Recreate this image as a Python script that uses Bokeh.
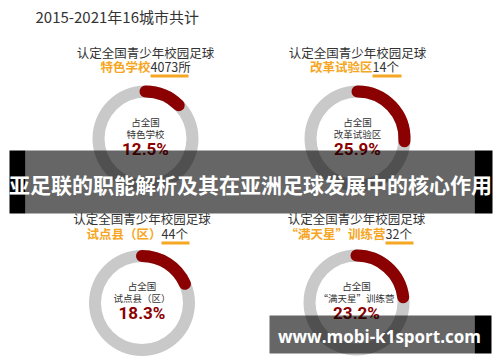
import math
from bokeh.plotting import figure
from bokeh.models import Range1d
from bokeh.core.properties import value
from bokeh.embed import file_html
from bokeh.resources import INLINE

# ---- data ----
title = "2015-2021年16城市共计"
header = "认定全国青少年校园足球"
categories = ["特色学校", "改革试验区", "试点县（区）", "“满天星”训练营"]
counts = [4073, 14, 44, 32]
units = ["所", "个", "个", "个"]
shares = [12.5, 25.9, 18.3, 23.2]  # percent of national total
banner_text = "亚足联的职能解析及其在亚洲足球发展中的核心作用"
watermark_text = "www.mobi-k1sport.com"

# ---- layout (pixel coords from top-left) ----
W, H = 500, 362
centers = [(145, 138), (357, 138), (141.5, 302.5), (356, 302)]
head_y = [52, 52, 218, 218]
sub_y = [65.5, 65.5, 232.5, 232.5]
split_x = [150, 372, 161, 385]
under_end = [188, 401, 189, 413]
under_y = [75.5, 75.5, 242.5, 242.5]

ORANGE = "#F5A623"
DARK = "#333333"
RED = "#8B0000"
GRAY = "#C9C9C9"
CJK = value("Noto Sans CJK SC")

def Y(y):
    return H - y

p = figure(width=W, height=H, output_backend="svg", toolbar_location=None,
           x_range=Range1d(0, W), y_range=Range1d(0, H), min_border=0,
           x_axis_location=None, y_axis_location=None)
p.grid.visible = False
p.outline_line_color = None
p.background_fill_color = "white"
p.border_fill_color = "white"

# title
p.text(x=[35], y=[Y(16)], text=[title], text_font=CJK, text_font_size="15px",
       text_color=DARK, text_align="left", text_baseline="middle")

cx = [c[0] for c in centers]
cy = [Y(c[1]) for c in centers]

# donut rings
p.annulus(x=cx, y=cy, inner_radius=41, outer_radius=53, fill_color=GRAY, line_color=None)
starts = [math.pi / 2] * 4
ends = [math.pi / 2 - 2 * math.pi * s / 100 for s in shares]
p.arc(x=cx, y=cy, radius=47, start_angle=starts, end_angle=ends, direction="clock",
      line_color=RED, line_width=12, line_cap="round")

# headers
p.text(x=cx, y=[Y(v) for v in head_y], text=[header] * 4, text_font=CJK,
       text_font_size="12.5px", text_color=DARK, text_align="center", text_baseline="middle")
p.text(x=split_x, y=[Y(v) for v in sub_y], text=categories, text_font=CJK,
       text_font_size="12.5px", text_font_style="bold", text_color=ORANGE,
       text_align="right", text_baseline="middle")
p.text(x=split_x, y=[Y(v) for v in sub_y], text=[f"{c}{u}" for c, u in zip(counts, units)],
       text_font=CJK, text_font_size="12.5px", text_color=DARK, text_align="left",
       text_baseline="middle")
p.segment(x0=split_x, y0=[Y(v) for v in under_y], x1=under_end, y1=[Y(v) for v in under_y],
          line_color=ORANGE, line_width=3)

# inner labels
p.text(x=cx, y=[Y(c[1] - 17) for c in centers], text=["占全国"] * 4, text_font=CJK,
       text_font_size="9.5px", text_color=DARK, text_align="center", text_baseline="middle")
p.text(x=cx, y=[Y(c[1] - 5) for c in centers], text=categories, text_font=CJK,
       text_font_size="9.5px", text_color=DARK, text_align="center", text_baseline="middle")
p.text(x=cx, y=[Y(c[1] + 10) for c in centers], text=[f"{s}%" for s in shares],
       text_font=value("Roboto"), text_font_size="17px", text_font_style="bold",
       text_color=RED, text_align="center", text_baseline="middle")

# banner overlay
p.quad(left=[25], right=[474], bottom=[Y(213)], top=[Y(150)], fill_color="black",
       fill_alpha=0.6, line_color=None)
p.quad(left=[9, 474], right=[25, 492], bottom=[Y(213)] * 2, top=[Y(150)] * 2,
       fill_color="black", line_color=None)
p.text(x=[250], y=[Y(183)], text=[banner_text], text_font=CJK, text_font_size="21px",
       text_font_style="bold", text_color="white", text_align="center", text_baseline="middle")

# watermark overlay
p.quad(left=[269], right=[474], bottom=[Y(353)], top=[Y(315)], fill_color="black",
       fill_alpha=0.6, line_color=None)
p.quad(left=[474], right=[491], bottom=[Y(353)], top=[Y(315)], fill_color="black",
       line_color=None)
p.text(x=[379], y=[Y(336)], text=[watermark_text], text_font=value("Open Sans"),
       text_font_size="17px", text_font_style="bold", text_color="white",
       text_align="center", text_baseline="middle")

open("out.html", "w").write(file_html(p, INLINE))
